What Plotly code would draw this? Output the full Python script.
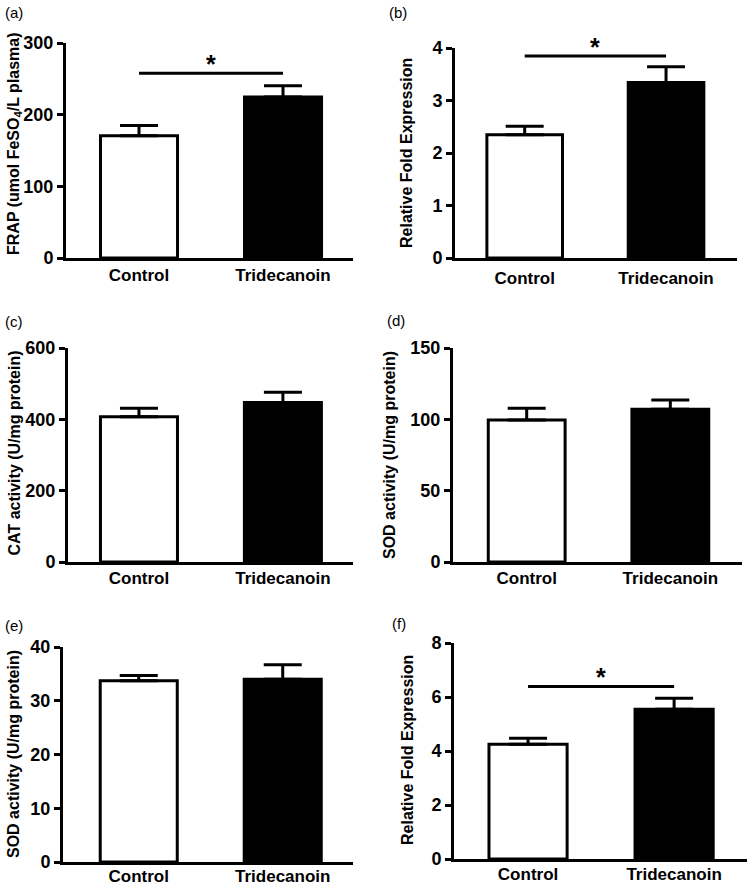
import plotly.graph_objects as go

W, H = 750, 885

categories = ["Control", "Tridecanoin"]

# (a) FRAP
frap_mean = [170.5, 224.7]
frap_sem = [14.5, 15.7]
frap_sig = 257.7
# (b) Relative fold expression
fold_b_mean = [2.35, 3.345]
fold_b_sem = [0.16, 0.30]
fold_b_sig = 3.85
# (c) CAT activity
cat_mean = [407.0, 447.0]
cat_sem = [24.0, 29.0]
# (d) SOD activity
sod_d_mean = [99.5, 107.0]
sod_d_sem = [8.2, 6.5]
# (e) SOD activity
sod_e_mean = [33.7, 34.0]
sod_e_sem = [1.0, 2.7]
# (f) Relative fold expression
fold_f_mean = [4.25, 5.55]
fold_f_sem = [0.22, 0.40]
fold_f_sig = 6.39

panels = [
    dict(label="(a)", title="FRAP (umol FeSO<sub>4</sub>/L plasma)", mean=frap_mean, sem=frap_sem,
         ymax=300, dtick=100, sig=frap_sig, px=(66, 353), py=(43, 258), xr=(-0.507, 1.486),
         lab=(3, 12), tit=(14, 144), so=0),
    dict(label="(b)", title="Relative Fold Expression", mean=fold_b_mean, sem=fold_b_sem,
         ymax=4, dtick=1, sig=fold_b_sig, px=(455, 737), py=(48, 258), xr=(-0.493, 1.502),
         lab=(387, 13), tit=(407, 153), so=3),
    dict(label="(c)", title="CAT activity (U/mg protein)", mean=cat_mean, sem=cat_sem,
         ymax=600, dtick=200, sig=None, px=(68, 353), py=(348, 562), xr=(-0.493, 1.487),
         lab=(3, 321), tit=(13.5, 453), so=-1),
    dict(label="(d)", title="SOD activity (U/mg protein)", mean=sod_d_mean, sem=sod_d_sem,
         ymax=150, dtick=50, sig=None, px=(453, 742), py=(348, 562), xr=(-0.513, 1.499),
         lab=(385, 320), tit=(389, 455), so=-1),
    dict(label="(e)", title="SOD activity (U/mg protein)", mean=sod_e_mean, sem=sod_e_sem,
         ymax=40, dtick=10, sig=None, px=(63, 353), py=(647, 862), xr=(-0.526, 1.488),
         lab=(3, 625), tit=(13, 754), so=-3),
    dict(label="(f)", title="Relative Fold Expression", mean=fold_f_mean, sem=fold_f_sem,
         ymax=8, dtick=2, sig=fold_f_sig, px=(454, 747), py=(643, 859), xr=(-0.507, 1.499),
         lab=(390, 623), tit=(407, 750), so=-2),
]

FONT = "Liberation Sans, Arial, sans-serif"
fig = go.Figure()
layout = dict(width=W, height=H, margin=dict(l=0, r=0, t=0, b=0, autoexpand=False),
              paper_bgcolor="white", plot_bgcolor="white", showlegend=False,
              font=dict(family=FONT, color="black"))
annotations = []

for i, p in enumerate(panels, start=1):
    xa = "x" if i == 1 else f"x{i}"
    ya = "y" if i == 1 else f"y{i}"
    fig.add_trace(go.Bar(
        x=categories, y=p["mean"], xaxis=xa, yaxis=ya, width=0.535,
        marker=dict(color=["white", "black"], line=dict(color="black", width=3)),
        error_y=dict(type="data", symmetric=False, array=p["sem"], arrayminus=[0, 0],
                     thickness=3, width=19, color="black"),
        hoverinfo="skip"))
    if p["sig"] is not None:
        fig.add_trace(go.Scatter(x=categories, y=[p["sig"], p["sig"]], xaxis=xa, yaxis=ya,
                                 mode="lines", line=dict(color="black", width=3),
                                 hoverinfo="skip"))
        annotations.append(dict(x=0.5, y=p["sig"], xref=xa, yref=ya, text="*",
                                showarrow=False, yanchor="bottom", yshift=-7,
                                font=dict(size=25, weight="bold", family=FONT)))
    key = "" if i == 1 else str(i)
    layout["xaxis" + key] = dict(
        domain=[p["px"][0] / W, p["px"][1] / W], anchor=ya, range=list(p["xr"]),
        showline=True, linewidth=3, linecolor="black", ticks="", showgrid=False,
        zeroline=False, automargin=False, ticklabelstandoff=p["so"],
        tickfont=dict(size=17, weight="bold", family=FONT, color="black"),
        fixedrange=True)
    layout["yaxis" + key] = dict(
        domain=[1 - p["py"][1] / H, 1 - p["py"][0] / H], anchor=xa, range=[0, p["ymax"]],
        tick0=0, dtick=p["dtick"], showline=True, linewidth=3, linecolor="black",
        ticks="outside", ticklen=6, tickwidth=3, tickcolor="black", showgrid=False,
        zeroline=False, automargin=False,
        tickfont=dict(size=18, weight="bold", family=FONT, color="black"),
        fixedrange=True)
    annotations.append(dict(x=p["lab"][0] / W, y=1 - p["lab"][1] / H, xref="paper", yref="paper",
                            text=p["label"], showarrow=False, xanchor="left", yanchor="middle",
                            font=dict(size=15, family=FONT)))
    annotations.append(dict(x=p["tit"][0] / W, y=1 - p["tit"][1] / H, xref="paper", yref="paper",
                            text=p["title"], showarrow=False, textangle=-90,
                            xanchor="center", yanchor="middle",
                            font=dict(size=16, weight="bold", family=FONT)))

layout["annotations"] = annotations
fig.update_layout(**layout)
fig.write_html("out.html", config={"displayModeBar": False},
               post_script="document.body.style.margin='0';document.body.style.overflow='hidden';")
